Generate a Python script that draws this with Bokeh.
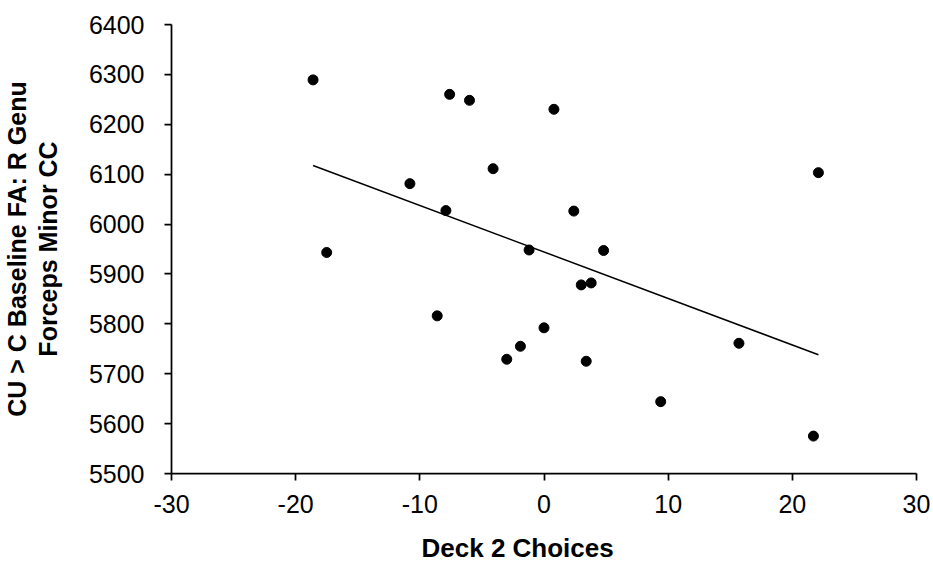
import numpy as np
from bokeh.plotting import figure
from bokeh.models import Range1d, FixedTicker, PrintfTickFormatter, Title
from bokeh.embed import file_html
from bokeh.resources import INLINE

# Deck 2 choices vs. baseline FA (R genu, forceps minor CC)
deck2_choices = [-18.6, -7.6, -6.0, 0.8, -4.1, -10.8, -7.9, 2.4, -17.5, -1.2, 4.8,
                 22.1, 3.0, 3.8, -8.6, 0.0, -1.9, -3.0, 3.4, 15.7, 9.4, 21.7]
baseline_fa = [6289, 6260, 6248, 6230, 6111, 6081, 6027, 6026, 5943, 5948, 5947,
               6103, 5878, 5882, 5816, 5792, 5755, 5729, 5725, 5761, 5644, 5575]

x_ticks = [-30, -20, -10, 0, 10, 20, 30]
y_ticks = [5500, 5600, 5700, 5800, 5900, 6000, 6100, 6200, 6300, 6400]

FONT = "Liberation Sans"

p = figure(width=933, height=562, output_backend="svg", toolbar_location=None,
           x_range=Range1d(-30, 30), y_range=Range1d(5500, 6400),
           min_border_left=168, min_border_right=17, min_border_top=24,
           min_border_bottom=89)
p.outline_line_color = None
p.background_fill_color = "white"
p.border_fill_color = "white"
p.xgrid.visible = False
p.ygrid.visible = False

for ax in (p.xaxis[0], p.yaxis[0]):
    ax.axis_line_color = "black"
    ax.axis_line_width = 1.75
    ax.major_tick_line_color = "black"
    ax.major_tick_line_width = 1.75
    ax.major_tick_out = 7
    ax.major_tick_in = 0
    ax.minor_tick_line_color = None
    ax.major_label_text_font = FONT
    ax.major_label_text_font_size = "25px"
    ax.major_label_text_color = "black"
    ax.formatter = PrintfTickFormatter(format="%d")

p.xaxis[0].ticker = FixedTicker(ticks=x_ticks)
p.yaxis[0].ticker = FixedTicker(ticks=y_ticks)
p.xaxis[0].major_label_standoff = 14
p.yaxis[0].major_label_standoff = 20

# blank spacer label under the x ticks so the title below sits lower
p.xaxis[0].axis_label = " "
p.xaxis[0].axis_label_text_font_size = "10px"
p.xaxis[0].axis_label_standoff = 1

p.yaxis[0].axis_label = "CU > C Baseline FA: R Genu\nForceps Minor CC"
p.yaxis[0].axis_label_text_font = FONT
p.yaxis[0].axis_label_text_font_size = "25px"
p.yaxis[0].axis_label_text_font_style = "bold"
p.yaxis[0].axis_label_text_color = "black"
p.yaxis[0].axis_label_standoff = 24
p.yaxis[0].axis_label_text_line_height = 1.1

# x-axis title, set a little left of the frame centre
p.add_layout(Title(text="Deck 2 Choices", align="left", offset=250,
                   vertical_align="bottom", standoff=0,
                   text_font=FONT, text_font_size="26px",
                   text_font_style="bold", text_color="black"), "below")

# least-squares trend line across the observed range
xs = np.array(deck2_choices, dtype=float)
ys = np.array(baseline_fa, dtype=float)
slope, intercept = np.polyfit(xs, ys, 1)
line_x = [xs.min(), xs.max()]
line_y = [slope * v + intercept for v in line_x]
p.line(line_x, line_y, line_color="black", line_width=1.5)

p.scatter(deck2_choices, baseline_fa, size=10, marker="circle",
          fill_color="black", line_color="black")

open("out.html", "w").write(file_html(p, INLINE))
